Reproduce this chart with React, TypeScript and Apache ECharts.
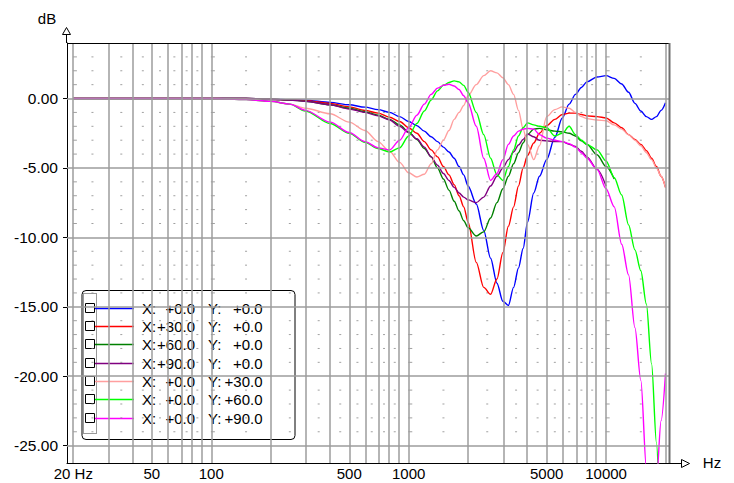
import React, { useEffect, useRef } from 'react';
import * as echarts from 'echarts';

// Frequencies (Hz) at which the curves were read
const freqs = [20, 100, 150, 200, 250, 300, 400, 500, 600, 700, 800, 900, 1000, 1100, 1200, 1300, 1400, 1500, 1600, 1700, 1800, 1900, 2000, 2200, 2400, 2600, 2800, 3000, 3200, 3400, 3600, 3800, 4000, 4300, 4600, 5000, 5500, 6000, 6500, 7000, 7500, 8000, 9000, 10000, 11000, 12000, 13000, 14000, 15000, 16000, 17000, 18000, 19000, 20000];

// dB values for each measurement
const dbX0Y0 = [0, 0, 0, -0.05, -0.08, -0.12, -0.28, -0.45, -0.62, -0.8, -1.0, -1.3, -1.65, -1.95, -2.35, -2.75, -3.1, -3.5, -3.85, -4.3, -4.9, -5.5, -6.3, -7.6, -9.5, -11.5, -13.3, -14.6, -14.9, -13.6, -12.2, -10.8, -8.9, -6.8, -5.6, -4.4, -2.8, -1.4, -0.4, 0.3, 0.8, 1.2, 1.55, 1.65, 1.45, 1.05, 0.45, -0.35, -0.9, -1.3, -1.5, -1.3, -0.85, -0.3];
const dbX30Y0 = [0, 0, 0, -0.05, -0.1, -0.15, -0.35, -0.6, -0.85, -1.05, -1.35, -1.65, -2.1, -2.5, -3.1, -3.7, -4.2, -4.9, -5.5, -6.2, -7.0, -7.8, -8.9, -11.8, -13.6, -14.1, -13.0, -11.1, -9.2, -7.8, -6.3, -5.0, -4.1, -3.2, -2.5, -1.95, -1.5, -1.15, -1.05, -1.05, -1.15, -1.25, -1.3, -1.4, -1.75, -2.1, -2.6, -2.95, -3.3, -3.75, -4.3, -4.9, -5.6, -6.4];
const dbX60Y0 = [0, 0, 0, -0.05, -0.1, -0.2, -0.45, -0.7, -0.95, -1.2, -1.5, -1.9, -2.4, -2.95, -3.6, -4.2, -5.0, -5.8, -6.6, -7.4, -8.1, -8.8, -9.3, -9.9, -9.6, -8.6, -7.5, -6.5, -5.6, -4.7, -3.9, -3.2, -2.6, -2.2, -2.15, -2.25, -2.35, -2.4, -2.5, -2.7, -3.05, -3.3, -4.05, -4.9, -5.8, null, null, null, null, null, null, null, null, null];
const dbX90Y0 = [0, 0, 0, -0.05, -0.1, -0.2, -0.45, -0.75, -1.0, -1.25, -1.55, -2.0, -2.45, -2.9, -3.5, -4.2, -4.8, -5.4, -5.9, -6.4, -6.8, -7.1, -7.3, -7.5, -7.1, -6.3, -5.6, -5.0, -4.4, -3.85, -3.35, -2.95, -2.55, -2.75, -3.0, -3.05, -3.1, -3.1, -3.3, -3.45, -3.8, -4.2, -5.1, -6.3, null, null, null, null, null, null, null, null, null, null];
const dbX0Y30 = [0, 0, -0.05, -0.2, -0.4, -0.7, -1.1, -1.7, -2.3, -3.1, -3.8, -4.6, -5.35, -5.65, -5.45, -4.7, -3.7, -3.0, -2.3, -1.5, -1.0, -0.5, 0.2, 1.0, 1.65, 2.0, 1.85, 1.5, 1.0, 0.3, -0.85, -2.2, -3.3, -4.4, -3.4, -1.3, -0.8, -0.6, -0.7, -1.0, -1.3, -1.45, -1.55, -1.6, -1.9, -2.2, -2.6, -3.0, -3.4, -3.9, -4.4, -5.0, -5.6, -6.4];
const dbX0Y60 = [0, 0, -0.08, -0.2, -0.4, -0.9, -1.8, -2.5, -3.15, -3.6, -3.85, -3.55, -2.7, -1.8, -0.9, -0.1, 0.55, 0.95, 1.15, 1.27, 1.2, 0.95, 0.45, -1.0, -2.6, -4.3, -5.5, -5.9, -4.9, -3.7, -2.7, -2.1, -1.75, -1.9, -2.0, -2.1, -2.7, -2.5, -2.0, -2.6, -3.0, -3.3, -3.7, -4.5, -5.7, -6.95, -9.1, -10.9, -12.4, -14.8, -19.1, -24.8, -31, -30];
const dbX0Y90 = [0, 0, -0.08, -0.2, -0.4, -0.85, -1.7, -2.45, -3.1, -3.55, -3.7, -3.0, -2.1, -1.2, -0.4, 0.3, 0.75, 0.95, 1.03, 0.9, 0.65, 0.2, -0.3, -2.0, -4.3, -5.9, -5.4, -4.4, -3.3, -2.7, -2.35, -2.2, -2.15, -2.2, -2.6, -2.85, -3.0, -3.1, -3.25, -3.5, -3.9, -4.3, -5.1, -6.5, -7.8, -10.5, -12.7, -16.5, -20.3, -26.6, -32, -27.5, -23.2, -19.8];

const curves = [dbX0Y0, dbX30Y0, dbX60Y0, dbX90Y0, dbX0Y30, dbX0Y60, dbX0Y90];
const legendX = ['+0.0', '+30.0', '+60.0', '+90.0', '+0.0', '+0.0', '+0.0'];
const legendY = ['+0.0', '+0.0', '+0.0', '+0.0', '+30.0', '+60.0', '+90.0'];
const colors = ['#0000ff', '#ff0000', '#008000', '#800080', '#ff9f9f', '#00ff00', '#ff00ff'];

// Axes / grid
const gridFreqs = [20, 30, 40, 50, 60, 70, 80, 90, 100, 200, 300, 400, 500, 600, 700, 800, 900, 1000, 2000, 3000, 4000, 5000, 6000, 7000, 8000, 9000, 10000, 20000];
const gridDb = [0, -5, -10, -15, -20, -25];
const xTickFreqs = [20, 50, 100, 500, 1000, 5000, 10000];
const xTickLabels = ['20 Hz', '50', '100', '500', '1000', '5000', '10000'];
const yTickValues = [0, -5, -10, -15, -20, -25];
const dotFreqs = [25, 35, 45, 55, 65, 75, 85, 150, 250, 350, 450, 550, 650, 750, 850, 1500, 2500, 3500, 4500, 5500, 6500, 7500, 8500, 15000];
const decadeFreqs = [20, 100, 1000, 10000];
const dotRows = [3, 2, 1, -1, -2, -3, -4, -6, -7, -8, -9, -11, -12, -13, -14, -16, -17, -18, -19, -21, -22, -23, -24];
const fMin = 18.58;
const fMax = 21080;
const dbMin = -26.25;
const dbMax = 4;

const FONT = '15px "Liberation Sans", Arial, sans-serif';

export default function App() {
  const ref = useRef<HTMLDivElement>(null);
  useEffect(() => {
    document.body.style.margin = '0';
    if (!ref.current) return;
    const chart = echarts.init(ref.current, undefined, { renderer: 'svg' });
    const L = 67, T = 43, W = 603, H = 420;
    const R = L + W, B = T + H;

    const curveSeries = curves.map((vals, i) => ({
      type: 'line',
      name: `X:${legendX[i]} Y:${legendY[i]}`,
      data: freqs.map((f, j) => [Math.log10(f), vals[j]]).filter((p) => p[1] !== null),
      showSymbol: false,
      smooth: 0.3,
      smoothMonotone: 'x',
      clip: true,
      z: 3,
      lineStyle: { color: colors[i], width: 1.4 },
      itemStyle: { color: colors[i] },
      silent: true,
    }));

    const dots: number[][] = [];
    dotFreqs.forEach((f) => dotRows.forEach((d) => dots.push([Math.log10(f), d])));
    const dashes: number[][] = [];
    decadeFreqs.forEach((f) => dotRows.forEach((d) => dashes.push([Math.log10(f) + 0.008, d])));

    const legendEls: any[] = [
      { type: 'rect', shape: { x: 82, y: 290.5, width: 213, height: 149, r: 4 }, style: { fill: '#fff', stroke: '#000', lineWidth: 1 } },
      { type: 'rect', shape: { x: 83.5, y: 293.5, width: 13, height: 140 }, style: { fill: 'none', stroke: '#333', lineWidth: 1, lineDash: [1, 1] } },
    ];
    curves.forEach((_, i) => {
      const cy = Math.round(307.7 + i * 18.33) + 0.5;
      legendEls.push({ type: 'rect', shape: { x: 85.5, y: cy - 5, width: 9, height: 9 }, style: { fill: '#fff', stroke: '#000', lineWidth: 1 } });
      legendEls.push({ type: 'line', shape: { x1: 95, y1: cy, x2: 134, y2: cy }, style: { stroke: colors[i], lineWidth: 1.5 } });
      legendEls.push({ type: 'text', x: 142, y: cy, style: { text: 'X:', font: FONT, fill: '#000', textAlign: 'left', textVerticalAlign: 'middle' } });
      legendEls.push({ type: 'text', x: 195, y: cy, style: { text: legendX[i], font: FONT, fill: '#000', textAlign: 'right', textVerticalAlign: 'middle' } });
      legendEls.push({ type: 'text', x: 208, y: cy, style: { text: 'Y:', font: FONT, fill: '#000', textAlign: 'left', textVerticalAlign: 'middle' } });
      legendEls.push({ type: 'text', x: 262.5, y: cy, style: { text: legendY[i], font: FONT, fill: '#000', textAlign: 'right', textVerticalAlign: 'middle' } });
    });

    const option: any = {
      animation: false,
      grid: { left: L, top: T, width: W, height: H, show: false },
      xAxis: {
        type: 'value',
        min: Math.log10(fMin),
        max: Math.log10(fMax),
        splitLine: { show: false },
        axisLine: { show: true, onZero: false, lineStyle: { color: '#000', width: 1 } },
        axisTick: { show: false },
        axisLabel: {
          customValues: xTickFreqs.map((f) => Math.log10(f)),
          formatter: (v: number) => {
            const i = xTickFreqs.findIndex((f) => Math.abs(Math.log10(f) - v) < 1e-6);
            return i >= 0 ? xTickLabels[i] : '';
          },
          color: '#000',
          fontSize: 15,
          fontFamily: '"Liberation Sans", Arial, sans-serif',
          margin: 3,
        },
      },
      yAxis: {
        type: 'value',
        min: dbMin,
        max: dbMax,
        splitLine: { show: false },
        axisLine: { show: true, onZero: false, lineStyle: { color: '#000', width: 1 } },
        axisTick: { show: true, customValues: yTickValues, length: 4, lineStyle: { color: '#000' } },
        axisLabel: {
          customValues: yTickValues,
          formatter: (v: number) => v.toFixed(2),
          color: '#000',
          fontSize: 15.5,
          fontFamily: '"Liberation Sans", Arial, sans-serif',
          margin: 9,
        },
      },
      series: [
        {
          type: 'scatter',
          data: dots,
          symbol: 'rect',
          symbolSize: [2, 1],
          itemStyle: { color: '#888' },
          silent: true,
          z: 1,
          markLine: {
            silent: true,
            symbol: ['none', 'none'],
            label: { show: false },
            lineStyle: { color: '#9c9c9c', width: 1.5, type: 'solid' },
            data: [
              ...gridFreqs.map((f) => ({ xAxis: Math.log10(f) })),
              ...gridDb.map((d) => ({ yAxis: d })),
            ],
          },
        },
        {
          type: 'scatter',
          data: dashes,
          symbol: 'rect',
          symbolSize: [4, 1],
          itemStyle: { color: '#888' },
          silent: true,
          z: 1,
        },
        ...curveSeries,
      ],
      graphic: [
        { type: 'line', z: 50, shape: { x1: L, y1: T + 0.5, x2: R, y2: T + 0.5 }, style: { stroke: '#000', lineWidth: 1 } },
        { type: 'line', z: 50, shape: { x1: R - 0.5, y1: T, x2: R - 0.5, y2: B }, style: { stroke: '#707070', lineWidth: 2 } },
        { type: 'line', z: 50, shape: { x1: L - 0.5, y1: T, x2: L - 0.5, y2: 34 }, style: { stroke: '#000', lineWidth: 1 } },
        { type: 'polygon', z: 51, shape: { points: [[62.5, 34.5], [70.5, 34.5], [66.5, 27.5]] }, style: { fill: '#fff', stroke: '#000', lineWidth: 1 } },
        { type: 'line', z: 50, shape: { x1: R, y1: B + 0.5, x2: 681, y2: B + 0.5 }, style: { stroke: '#000', lineWidth: 1 } },
        { type: 'polygon', z: 51, shape: { points: [[681.5, 459.5], [681.5, 467.5], [689.5, 463.5]] }, style: { fill: '#fff', stroke: '#000', lineWidth: 1 } },
        { type: 'text', z: 51, x: 47, y: 18, style: { text: 'dB', font: FONT, fill: '#000', textAlign: 'center', textVerticalAlign: 'middle' } },
        { type: 'text', z: 51, x: 712, y: 462, style: { text: 'Hz', font: FONT, fill: '#000', textAlign: 'center', textVerticalAlign: 'middle' } },
        { type: 'group', z: 60, children: legendEls },
      ],
    };
    chart.setOption(option);
    return () => chart.dispose();
  }, []);
  return <div ref={ref} style={{ width: 734, height: 483 }} />;
}
